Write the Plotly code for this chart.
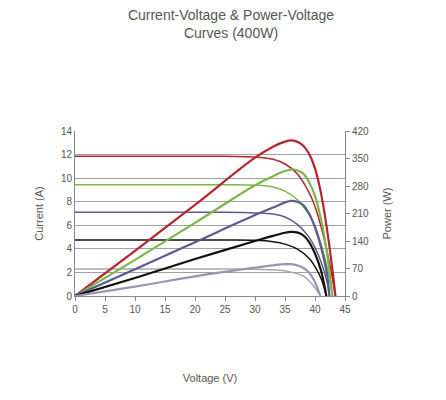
import plotly.graph_objects as go

# I-V curves (voltage V, current A)
red_iv_v = [0, 25, 30, 33, 35, 37, 39, 40, 41, 42, 43, 43.4]
red_iv_i = [11.85, 11.85, 11.8, 11.6, 11.2, 10.4, 8.8, 7.6, 5.9, 3.8, 1.2, 0]
green_iv_v = [0, 25, 30, 33, 35, 37, 39, 40, 41, 42, 42.9]
green_iv_i = [9.45, 9.45, 9.4, 9.25, 8.9, 8.2, 6.9, 5.9, 4.4, 2.5, 0]
purple_iv_v = [0, 25, 30, 33, 35, 37, 39, 40, 41, 42, 42.4]
purple_iv_i = [7.1, 7.1, 7.05, 6.95, 6.7, 6.1, 5.0, 4.1, 2.9, 1.2, 0]
black_iv_v = [0, 25, 30, 33, 35, 37, 39, 40, 41, 41.9]
black_iv_i = [4.75, 4.75, 4.72, 4.6, 4.4, 4.0, 3.2, 2.5, 1.5, 0]
gray_iv_v = [0, 25, 30, 33, 35, 37, 38, 39, 40, 40.9]
gray_iv_i = [2.3, 2.3, 2.28, 2.22, 2.12, 1.9, 1.7, 1.3, 0.7, 0]

# P-V curves (voltage V, power W)
red_pv_v = [0, 10, 20, 30, 33, 35, 36, 37, 38, 39, 40, 41, 42, 43, 43.4]
red_pv_p = [0, 115, 232, 352, 380, 393, 396, 393, 383, 362, 325, 262, 170, 55, 0]
green_pv_v = [0, 10, 20, 30, 33, 35, 36.5, 38, 39, 40, 41, 42, 42.9]
green_pv_p = [0, 92, 186, 282, 305, 318, 322, 312, 290, 255, 195, 110, 0]
purple_pv_v = [0, 10, 20, 30, 33, 35, 36, 37, 38, 39, 40, 41, 42, 42.4]
purple_pv_p = [0, 68, 137, 206, 225, 238, 242, 240, 232, 210, 175, 125, 55, 0]
black_pv_v = [0, 10, 20, 30, 33, 35, 36, 37, 38, 39, 40, 41, 41.9]
black_pv_p = [0, 46, 94, 140, 153, 161, 163, 162, 155, 138, 108, 65, 0]
gray_pv_v = [0, 10, 20, 30, 33, 35, 36, 37, 38, 39, 40, 40.9]
gray_pv_p = [0, 24, 50, 72, 78, 81, 81, 78, 72, 60, 35, 0]

x_ticks = [0, 5, 10, 15, 20, 25, 30, 35, 40, 45]
left_ticks = [0, 2, 4, 6, 8, 10, 12, 14]
right_ticks = [0, 70, 140, 210, 280, 350, 420]

fig = go.Figure()

iv = [(red_iv_v, red_iv_i, "#b5242e"), (green_iv_v, green_iv_i, "#7ab648"),
      (purple_iv_v, purple_iv_i, "#5b5b8f"), (black_iv_v, black_iv_i, "#111111"),
      (gray_iv_v, gray_iv_i, "#a8a8a8")]
pv = [(red_pv_v, red_pv_p, "#b5242e"), (green_pv_v, green_pv_p, "#7ab648"),
      (purple_pv_v, purple_pv_p, "#5b5b8f"), (black_pv_v, black_pv_p, "#111111"),
      (gray_pv_v, gray_pv_p, "#9a94b4")]

for v, i, c in iv:
    fig.add_trace(go.Scatter(x=v, y=i, mode="lines", line=dict(color=c, width=1.5, shape="spline"),
                             showlegend=False))
for v, p, c in pv:
    fig.add_trace(go.Scatter(x=v, y=p, mode="lines", yaxis="y2",
                             line=dict(color=c, width=2.2, shape="spline"), showlegend=False))

font = dict(family="Liberation Sans, Arial", color="#555555")
fig.update_layout(
    width=446, height=400,
    paper_bgcolor="white", plot_bgcolor="white",
    margin=dict(l=67, r=109, t=123, b=112, autoexpand=False),
    title=dict(text="Current-Voltage & Power-Voltage<br>Curves (400W)", x=0.5, y=0.97,
               xanchor="center", yanchor="top", font=dict(size=14, **font)),
    font=dict(size=10, **font),
    xaxis=dict(range=[0, 45], tickvals=x_ticks, showgrid=False, ticks="outside", ticklen=4,
               linecolor="#888888", tickcolor="#888888", zeroline=False,
               title=dict(text="Voltage (V)", standoff=60, font=dict(size=11, **font))),
    yaxis=dict(range=[0, 14], tickvals=left_ticks, showgrid=True, gridcolor="#a0a0a0",
               gridwidth=1, linecolor="#888888", showline=True, zeroline=False,
               title=dict(text="Current (A)", font=dict(size=11, **font))),
    yaxis2=dict(range=[0, 420], tickvals=right_ticks, overlaying="y", side="right",
                showgrid=False, showline=True, linecolor="#888888", ticks="outside",
                tickcolor="#888888", ticklen=4, zeroline=False,
                title=dict(text="Power (W)", font=dict(size=11, **font))),
)

fig.write_html("out.html")
